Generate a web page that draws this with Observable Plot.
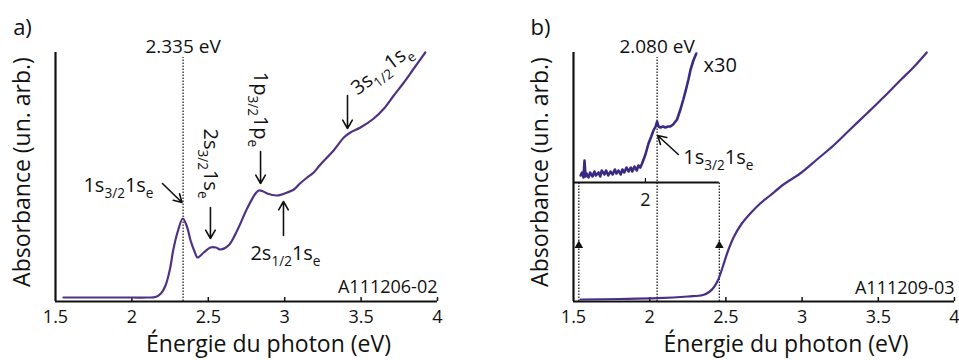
<!DOCTYPE html>
<html>
<head>
<meta charset="utf-8">
<script src="https://cdn.jsdelivr.net/npm/d3@7"></script>
<script src="https://cdn.jsdelivr.net/npm/@observablehq/plot@0.6"></script>
<style>
  html, body { margin: 0; padding: 0; background: #fff; }
  #wrap { display: flex; width: 959px; height: 360px; overflow: hidden; }
  svg { overflow: visible; }
</style>
</head>
<body>
<div id="wrap"><div id="pa"></div><div id="pb"></div></div>
<script>
// ---------- data ----------
const xTicks = [1.5, 2, 2.5, 3, 3.5, 4];
const xTitle = "Énergie du photon (eV)";
const yTitle = "Absorbance (un. arb.)";

// Panel a: absorbance spectrum
const aEnergy = [1.552, 1.6, 1.8, 2.0, 2.1, 2.154, 2.19, 2.22, 2.25, 2.27, 2.30, 2.333, 2.36, 2.384, 2.41, 2.43, 2.47, 2.514, 2.55, 2.58, 2.632, 2.689, 2.754, 2.809, 2.83, 2.86, 2.885, 2.95, 3.016, 3.06, 3.10, 3.147, 3.19, 3.234, 3.32, 3.387, 3.43, 3.496, 3.583, 3.65, 3.714, 3.78, 3.845, 3.92];
const aAbs    = [4, 4, 4, 4, 4, 4.5, 8, 16, 33, 51, 70, 83, 75, 61, 50, 44, 49, 54, 54, 52, 56, 71, 93, 108, 111, 110, 108, 106, 109, 112, 118, 124, 129, 137, 151, 164, 169, 174, 183, 193, 206, 219, 233, 249];
const aPeak = 2.335;
const aPeakLabel = "2.335 eV";
const aCode = "A111206-02";
const aLabels = [
  {x: 1.912, y: 116, t: "1s_{3/2}1s_{e}", r: 0},
  {x: 2.514, y: 138, t: "2s_{3/2}1s_{e}", r: 90},
  {x: 2.842, y: 192, t: "1p_{3/2}1p_{e}", r: 90},
  {x: 3.005, y: 48,  t: "2s_{1/2}1s_{e}", r: 0},
  {x: 3.635, y: 232, t: "3s_{1/2}1s_{e}", r: -37}
];
const aArrows = [
  {x1: 2.20, y1: 118, x2: 2.328, y2: 99},
  {x1: 2.514, y1: 94, x2: 2.514, y2: 63},
  {x1: 2.842, y1: 150, x2: 2.842, y2: 118},
  {x1: 2.992, y1: 66, x2: 2.992, y2: 100},
  {x1: 3.411, y1: 206, x2: 3.411, y2: 173}
];

// Panel b: absorbance spectrum
const bEnergy = [1.546, 1.8, 2.05, 2.25, 2.35, 2.39, 2.42, 2.45, 2.48, 2.51, 2.55, 2.6, 2.66, 2.725, 2.79, 2.878, 2.987, 3.097, 3.206, 3.315, 3.425, 3.533, 3.643, 3.73, 3.818];
const bAbs    = [2, 2.5, 3.3, 5, 6.5, 9.5, 14, 22, 35, 49, 64, 77, 88, 98, 106, 117, 128, 142, 156, 172, 188, 204, 221, 234, 249];
// Inset (x30), energies in the inset's own scale
const insetEnergy = [1.555, 1.565, 1.575, 1.582, 1.589, 1.596, 1.61, 1.62, 1.637, 1.65, 1.66, 1.678, 1.69, 1.70, 1.719, 1.73, 1.745, 1.76, 1.775, 1.79, 1.801, 1.815, 1.83, 1.842, 1.855, 1.87, 1.884, 1.90, 1.91, 1.925, 1.94, 1.952, 1.965, 1.977, 2.0, 2.021, 2.04, 2.055, 2.07, 2.08, 2.09, 2.103, 2.12, 2.137, 2.155, 2.171, 2.19, 2.217, 2.24, 2.26, 2.28, 2.295, 2.31, 2.329, 2.349];
const insetAbs    = [126, 129, 124, 141, 125, 128, 124, 129, 125, 130, 126, 129, 125, 131, 127, 131, 126, 130, 127, 132, 128, 131, 127, 132, 129, 134, 130, 134, 130, 135, 131, 136, 134, 138, 147, 158, 165, 171, 175, 180, 175, 174, 175, 174, 175, 175, 177, 182, 192, 202, 213, 222, 232, 241, 248];
const insetBase = 119;           // inset baseline, in main absorbance units
const insetEdges = [1.543, 2.507]; // magnified range, inset scale
const insetTick = 2;
const insetCalib = {inset: [2, 2.08], main: [1.972, 2.0485]}; // inset scale -> main scale
const bPeak = 2.080;
const bPeakLabel = "2.080 eV";
const bFactor = "x30";
const bCode = "A111209-03";
const bLabel = {x: 2.45, y: 144, t: "1s_{3/2}1s_{e}"};
const bArrow = {x1: 2.188, y1: 147, x2: 2.052, y2: 166};

// ---------- drawing ----------
const FONT = "'Open Sans', 'DejaVu Sans', sans-serif";
const toMain = d3.scaleLinear().domain(insetCalib.inset).range(insetCalib.main);

function baseMarks(panelLetter) {
  return [
    Plot.ruleY([0], {stroke: "#111", strokeWidth: 2.2}),
    Plot.ruleX([1.5], {stroke: "#111", strokeWidth: 2.2}),
    Plot.ruleX(xTicks.slice(1), {y1: 0, y2: 4, stroke: "#111", strokeWidth: 1.5}),
    Plot.axisX(xTicks, {tickSize: 0, tickPadding: 9, label: null, fontSize: 18, fill: "#111", tickFormat: d3.format("~g")}),
    Plot.text([yTitle], {frameAnchor: "left", textAnchor: "middle", lineAnchor: "middle", rotate: -90, dx: -33, dy: -5, fontSize: 23, fill: "#111"}),
    Plot.text([xTitle], {frameAnchor: "bottom", textAnchor: "middle", lineAnchor: "middle", dx: 22, dy: 43, fontSize: 23, fill: "#111"}),
    Plot.text([panelLetter], {x: 1.284, y: 274, fontSize: 22, fill: "#111"})
  ];
}

function subscriptify(svg) {
  svg.querySelectorAll("text").forEach(t => {
    const s = t.textContent;
    if (!s.includes("_{")) return;
    const fs = parseFloat(getComputedStyle(t).fontSize) || 20;
    const parts = s.split(/_\{([^}]*)\}/);
    while (t.firstChild) t.removeChild(t.firstChild);
    let shifted = false;
    parts.forEach((p, i) => {
      if (!p) return;
      const ts = document.createElementNS("http://www.w3.org/2000/svg", "tspan");
      ts.textContent = p;
      if (i % 2 === 1) {
        ts.setAttribute("font-size", (fs * 0.68).toFixed(1));
        if (!shifted) { ts.setAttribute("dy", (fs * 0.3).toFixed(1)); shifted = true; }
      } else if (shifted) {
        ts.setAttribute("dy", (-fs * 0.3).toFixed(1)); shifted = false;
      }
      t.appendChild(ts);
    });
  });
}

const common = {
  height: 360,
  marginTop: 52,
  marginBottom: 59,
  x: {domain: [1.5, 4], axis: null},
  y: {domain: [0, 249], axis: null},
  style: {fontFamily: FONT, background: "white", overflow: "visible", color: "#111"}
};

const aData = aEnergy.map((e, i) => ({e, v: aAbs[i]}));
const plotA = Plot.plot({
  ...common,
  width: 480,
  marginLeft: 55,
  marginRight: 43,
  marks: [
    ...baseMarks("a)"),
    Plot.ruleX([aPeak], {y1: 0, y2: 244, stroke: "#111", strokeWidth: 1.2, strokeDasharray: "1.5,1.5"}),
    Plot.text([aPeakLabel], {x: aPeak, y: 255, fontSize: 19, fill: "#111"}),
    Plot.line(aData, {x: "e", y: "v", curve: "catmull-rom", stroke: "#503282", strokeWidth: 2.2}),
    Plot.arrow(aArrows, {x1: "x1", y1: "y1", x2: "x2", y2: "y2", stroke: "#111", strokeWidth: 1.6, headLength: 9}),
    Plot.text(aLabels, {x: "x", y: "y", text: "t", rotate: "r", fontSize: 20, fill: "#111", lineAnchor: "middle"}),
    Plot.text([aCode], {x: 4, y: 14, textAnchor: "end", fontSize: 18, fill: "#111"})
  ]
});

const bData = bEnergy.map((e, i) => ({e, v: bAbs[i]}));
const insetData = insetEnergy.map((e, i) => ({e: toMain(e), v: insetAbs[i]}));
const edgeMain = insetEdges.map(toMain);
const plotB = Plot.plot({
  ...common,
  width: 479,
  marginLeft: 93,
  marginRight: 5,
  marks: [
    ...baseMarks("b)"),
    // inset frame
    Plot.ruleY([insetBase], {x1: 1.5, x2: edgeMain[1], stroke: "#111", strokeWidth: 1.8}),
    Plot.ruleX([toMain(insetTick)], {y1: insetBase, y2: insetBase + 4, stroke: "#111", strokeWidth: 1.2}),
    Plot.text([String(insetTick)], {x: toMain(insetTick), y: 101, fontSize: 18, fill: "#111"}),
    Plot.ruleX(edgeMain, {y1: 0, y2: insetBase, stroke: "#111", strokeWidth: 1.2, strokeDasharray: "1.5,1.5"}),
    Plot.dot(edgeMain, {x: d => d, y: 56, symbol: "triangle", r: 3.2, fill: "#111", stroke: null}),
    Plot.ruleX([toMain(bPeak)], {y1: 0, y2: 244, stroke: "#111", strokeWidth: 1.2, strokeDasharray: "1.5,1.5"}),
    Plot.text([bPeakLabel], {x: toMain(bPeak), y: 255, fontSize: 19, fill: "#111"}),
    Plot.line(insetData, {x: "e", y: "v", stroke: "#3b2a84", strokeWidth: 2.6}),
    Plot.line(bData, {x: "e", y: "v", curve: "catmull-rom", stroke: "#4a2f86", strokeWidth: 2.2}),
    Plot.text([bFactor], {x: 2.463, y: 236, fontSize: 20, fill: "#111"}),
    Plot.arrow([bArrow], {x1: "x1", y1: "y1", x2: "x2", y2: "y2", stroke: "#111", strokeWidth: 1.6, headLength: 9}),
    Plot.text([bLabel], {x: "x", y: "y", text: "t", fontSize: 20, fill: "#111", lineAnchor: "middle"}),
    Plot.text([bCode], {x: 4, y: 13, textAnchor: "end", fontSize: 18, fill: "#111"})
  ]
});

document.getElementById("pa").appendChild(plotA);
document.getElementById("pb").appendChild(plotB);
subscriptify(plotA);
subscriptify(plotB);
</script>
</body>
</html>
